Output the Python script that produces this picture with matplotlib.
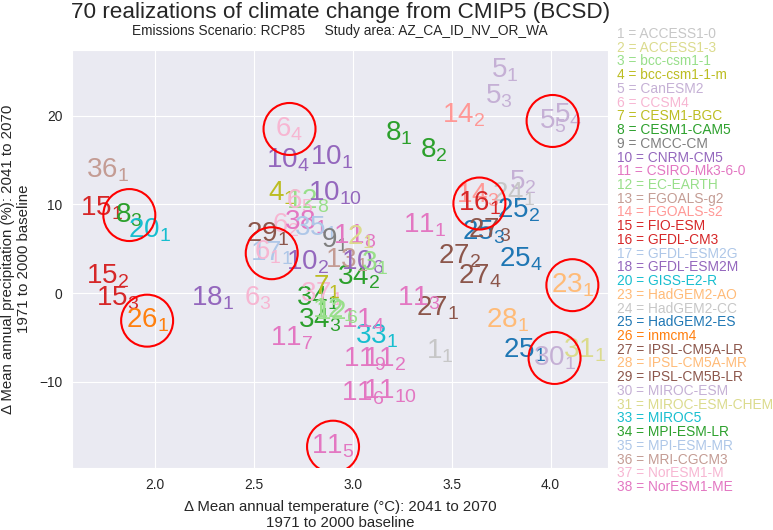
import matplotlib
matplotlib.use("Agg")
import matplotlib.pyplot as plt
import seaborn as sns

sns.set_style("darkgrid")
plt.rcParams['font.family'] = ['Liberation Sans', 'DejaVu Sans']
plt.rcParams['mathtext.default'] = 'regular'

# model legend
model_ids = [1, 2, 3, 4, 5, 6, 7, 8, 9, 10, 11, 12, 13, 14, 15, 16, 17, 18,
             20, 23, 24, 25, 26, 27, 28, 29, 30, 31, 33, 34, 35, 36, 37, 38]
model_names = ['ACCESS1-0', 'ACCESS1-3', 'bcc-csm1-1', 'bcc-csm1-1-m', 'CanESM2',
               'CCSM4', 'CESM1-BGC', 'CESM1-CAM5', 'CMCC-CM', 'CNRM-CM5',
               'CSIRO-Mk3-6-0', 'EC-EARTH', 'FGOALS-g2', 'FGOALS-s2', 'FIO-ESM',
               'GFDL-CM3', 'GFDL-ESM2G', 'GFDL-ESM2M', 'GISS-E2-R', 'HadGEM2-AO',
               'HadGEM2-CC', 'HadGEM2-ES', 'inmcm4', 'IPSL-CM5A-LR', 'IPSL-CM5A-MR',
               'IPSL-CM5B-LR', 'MIROC-ESM', 'MIROC-ESM-CHEM', 'MIROC5', 'MPI-ESM-LR',
               'MPI-ESM-MR', 'MRI-CGCM3', 'NorESM1-M', 'NorESM1-ME']
model_colors = ['#c7c7c7', '#dbdb8d', '#98df8a', '#bcbd22', '#c5b0d5', '#f7b6d2',
                '#bcbd22', '#2ca02c', '#7f7f7f', '#9467bd', '#e377c2', '#98df8a',
                '#c49c94', '#ff9896', '#d62728', '#d62728', '#aec7e8', '#9467bd',
                '#17becf', '#ffbb78', '#c7c7c7', '#1f77b4', '#ff7f0e', '#8c564b',
                '#ffbb78', '#8c564b', '#c5b0d5', '#dbdb8d', '#17becf', '#2ca02c',
                '#aec7e8', '#c49c94', '#f7b6d2', '#e377c2']

# realizations: model id, run number, delta T (C), delta P (%)
pt_model = [5, 5, 14, 5, 5, 8, 8, 5, 24, 14, 16, 25, 25, 27, 27, 27, 25, 11,
            23, 27, 11, 28, 25, 30, 31, 1, 33, 34, 34, 34, 37, 7, 12, 10, 10,
            4, 12, 6, 10, 6, 38, 35, 29, 17, 6, 10, 9, 11, 2, 13, 10, 3, 11,
            11, 11, 11, 11, 11, 11, 15, 15, 26, 18, 6, 6, 36, 15, 8, 20, 12]
pt_run = [1, 3, 2, 5, 4, 1, 2, 2, 1, 3, 1, 2, 3, 3, 2, 4, 4, 1,
          1, 1, 3, 1, 1, 1, 1, 1, 1, 2, 1, 3, 1, 1, 1, 4, 1,
          1, 8, 5, 10, 2, 1, 1, 1, 1, 1, 2, 1, 8, 1, 1, 6, 1, 7,
          4, 9, 2, 6, 10, 5, 2, 3, 1, 1, 3, 4, 1, 1, 3, 1, 6]
pt_dt = [3.77, 3.74, 3.56, 4.01, 4.09, 3.23, 3.41, 3.86, 3.81, 3.63, 3.64, 3.84,
         3.66, 3.69, 3.54, 3.64, 3.85, 3.36, 4.11, 3.43, 3.33, 3.78, 3.87, 4.02,
         4.17, 3.44, 3.12, 3.03, 2.82, 2.83, 2.84, 2.87, 2.90, 2.67, 2.89, 2.64,
         2.77, 2.73, 2.91, 2.66, 2.76, 2.81, 2.57, 2.59, 2.57, 2.77, 2.91, 3.01,
         3.04, 2.97, 3.05, 3.11, 2.69, 3.05, 3.06, 3.16, 3.05, 3.19, 2.90, 1.76,
         1.81, 1.96, 2.29, 2.52, 2.68, 1.76, 1.73, 1.87, 1.97, 2.92]
pt_dp = [25.1, 22.2, 20.0, 19.4, 20.1, 18.0, 16.1, 12.5, 11.2, 11.0, 10.1, 9.3,
         6.9, 7.1, 4.2, 1.9, 3.8, 7.6, 0.9, -1.7, -0.6, -3.0, -6.4, -7.3,
         -6.4, -6.6, -4.9, 1.8, -0.6, -3.0, -0.1, 0.7, -1.9, 15.0, 15.3, 11.3,
         10.4, 10.4, 11.3, 7.6, 8.0, 7.3, 6.6, 4.5, 4.6, 3.5, 6.0, 6.4,
         6.3, 3.7, 3.5, 3.4, -5.1, -3.0, -7.5, -7.5, -11.3, -11.0, -17.3, 1.9,
         -0.6, -3.1, -0.6, -0.6, 18.5, 13.8, 9.6, 8.8, 7.1, -2.1]

# highlighted (circled) realizations
circled = [(6, 4), (8, 3), (26, 1), (17, 1), (11, 5), (16, 1), (5, 5), (23, 1), (30, 1)]

color_of = dict(zip(model_ids, model_colors))

fig = plt.figure(figsize=(7.73, 5.30), dpi=100)
ax = fig.add_axes([0.0931, 0.117, 0.6934, 0.7887])

for m, r, dt, dp in zip(pt_model, pt_run, pt_dt, pt_dp):
    ax.text(dt, dp, r'$\mathregular{%d_{%d}}$' % (m, r), color=color_of[m],
            fontsize=20, ha='center', va='center')

cx = [pt_dt[i] for i in range(len(pt_model)) if (pt_model[i], pt_run[i]) in circled]
cy = [pt_dp[i] for i in range(len(pt_model)) if (pt_model[i], pt_run[i]) in circled]
ax.scatter(cx, cy, s=1400, facecolors='none', edgecolors='red', linewidths=1.5, zorder=5)

ax.set_xlim(1.58, 4.29)
ax.set_ylim(-19.7, 27.4)
ax.set_xticks([2.0, 2.5, 3.0, 3.5, 4.0])
ax.set_yticks([-10, 0, 10, 20])
ax.tick_params(labelsize=9.9, colors='#262626')
ax.set_xlabel('\u0394 Mean annual temperature (\u00b0C): 2041 to 2070\n1971 to 2000 baseline',
              fontsize=10.8, color='#262626', labelpad=6)
ax.set_ylabel('\u0394 Mean annual precipitation (%): 2041 to 2070\n1971 to 2000 baseline',
              fontsize=10.8, color='#262626', labelpad=6)

fig.text(0.44, 0.977, '70 realizations of climate change from CMIP5 (BCSD)',
         fontsize=16.2, ha='center', va='center', color='#262626')
fig.text(0.44, 0.941, 'Emissions Scenario: RCP85     Study area: AZ_CA_ID_NV_OR_WA',
         fontsize=9.9, ha='center', va='center', color='#262626')

# colored model key on the right
for i, (mid, name, col) in enumerate(zip(model_ids, model_names, model_colors)):
    ypix = 34 + i * (487 - 34) / (len(model_ids) - 1)
    fig.text(617 / 773, 1 - ypix / 530, '%d = %s' % (mid, name), color=col,
             fontsize=9.9, ha='left', va='center')

fig.savefig('out.png', dpi=100)
